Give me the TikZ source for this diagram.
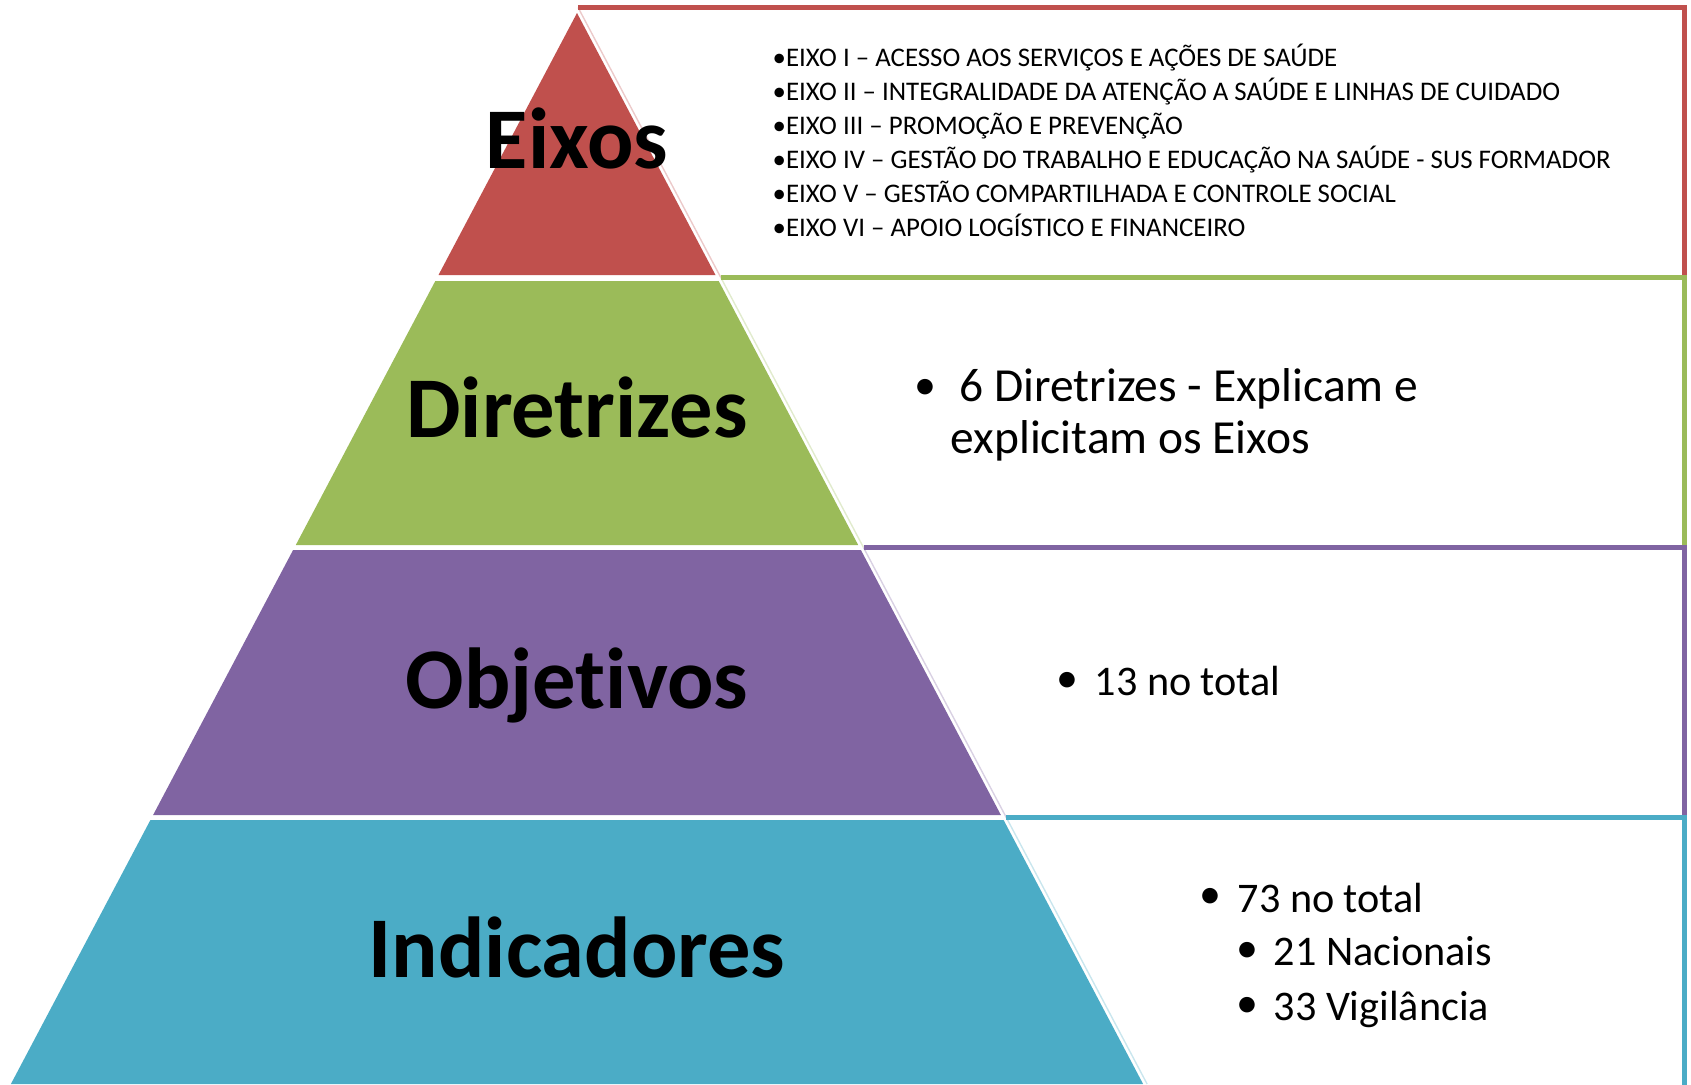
\documentclass[tikz,border=0pt]{standalone}
\usepackage{fontspec}
\setmainfont{Carlito}[Ligatures=NoCommon]
\usetikzlibrary{positioning}

\definecolor{eixoscol}{HTML}{C0504D}
\definecolor{diretcol}{HTML}{9BBB59}
\definecolor{objcol}{HTML}{8064A2}
\definecolor{indcol}{HTML}{4BACC6}

\begin{document}
\begin{tikzpicture}[x=0.01cm, y=-0.01cm,
    lbl/.style={font=\bfseries\fontsize{24.6}{29}\selectfont, anchor=base, inner sep=0pt},
    eixoitem/.style={font=\fontsize{7.64}{9}\selectfont, anchor=base west, inner sep=0pt},
    item/.style={font=\fontsize{12}{14}\selectfont, anchor=base west, inner sep=0pt},
    bigitem/.style={font=\fontsize{13.5}{15}\selectfont, anchor=base west, inner sep=0pt},
    dot/.style={font=\fontsize{12.5}{14}\selectfont, inner sep=0pt},
    boxline/.style={line width=1.42pt, line join=miter},
    sideline/.style={line width=0.4pt}]
    \useasboundingbox (0,0) rectangle (1691,1084);

    % pyramid
    \fill[eixoscol] (577,13) -- (715.5,275) -- (438.5,275) -- cycle;
    \fill[diretcol] (435.3,281) -- (718.7,281) -- (858.2,545) -- (295.8,545) -- cycle;
    \fill[objcol] (293.1,550) -- (860.9,550) -- (1000.9,815) -- (153.1,815) -- cycle;
    \fill[indcol] (150.4,820) -- (1003.6,820) -- (1143.1,1084) -- (10.9,1084) -- cycle;

    % boxes on the right
    \draw[eixoscol!30, sideline] (578.1,7.5) -- (720.8,277.5);
    \draw[eixoscol, boxline] (578.1,7.5) -- (1684,7.5) -- (1684,277.5);
    \draw[diretcol!30, sideline] (720.8,277.5) -- (863.5,547.5);
    \draw[diretcol, boxline] (720.8,277.5) -- (1684,277.5) -- (1684,547.5);
    \draw[objcol!30, sideline] (863.5,547.5) -- (1006.3,817.5);
    \draw[objcol, boxline] (863.5,547.5) -- (1684,547.5) -- (1684,817.5);
    \draw[indcol!30, sideline] (1006.3,817.5) -- (1147.1,1084);
    \draw[indcol, boxline] (1006.3,817.5) -- (1684,817.5) -- (1684,1090);

    % labels
    \node[lbl] (eixos) at (577,168) {Eixos};
    \node[lbl] (diretrizes) at (577,437) {Diretrizes};
    \node[lbl] (objetivos) at (577,708) {Objetivos};
    \node[lbl] (indicadores) at (577,977) {Indicadores};

    % eixos
    \node[eixoitem] (eixo1) at (772,66) {•EIXO I – ACESSO AOS SERVIÇOS E AÇÕES DE SAÚDE};
    \node[eixoitem] (eixo2) at (772,100) {•EIXO II – INTEGRALIDADE DA ATENÇÃO A SAÚDE E LINHAS DE CUIDADO};
    \node[eixoitem] (eixo3) at (772,134) {•EIXO III – PROMOÇÃO E PREVENÇÃO};
    \node[eixoitem] (eixo4) at (772,168) {•EIXO IV – GESTÃO DO TRABALHO E EDUCAÇÃO NA SAÚDE - SUS FORMADOR};
    \node[eixoitem] (eixo5) at (772,202) {•EIXO V – GESTÃO COMPARTILHADA E CONTROLE SOCIAL};
    \node[eixoitem] (eixo6) at (772,236) {•EIXO VI – APOIO LOGÍSTICO E FINANCEIRO};

    % diretrizes
    \node[dot] (dotdir) at (925,389) {•};
    \node[bigitem] (dir1) at (959,401) {6 Diretrizes - Explicam e};
    \node[bigitem] (dir2) at (950,453) {explicitam os Eixos};

    % objetivos
    \node[dot] (dotobj) at (1067,682) {•};
    \node[item] (obj1) at (1094,695) {13 no total};

    % indicadores
    \node[dot] (dotind) at (1210,898) {•};
    \node[item] (ind1) at (1237,912) {73 no total};
    \node[dot] (dotnac) at (1247,952) {•};
    \node[item] (ind2) at (1273,965) {21 Nacionais};
    \node[dot] (dotvig) at (1247,1007) {•};
    \node[item] (ind3) at (1273,1020) {33 Vigilância};
\end{tikzpicture}
\end{document}
